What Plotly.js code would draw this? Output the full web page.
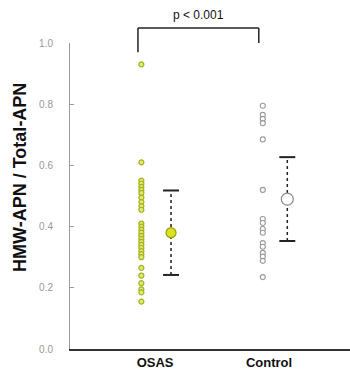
<!DOCTYPE html>
<html><head><meta charset="utf-8">
<script src="https://cdn.plot.ly/plotly-3.0.1.min.js"></script>
<style>html,body{margin:0;padding:0;background:#fff}#c{width:350px;height:370px}</style>
</head><body><div id="c"></div>
<script>
const groups = ["OSAS", "Control"];
const osasValues = [0.93, 0.61, 0.55, 0.54, 0.53, 0.52, 0.51, 0.495, 0.48, 0.467, 0.455, 0.41, 0.40, 0.39, 0.38, 0.37, 0.36, 0.35, 0.34, 0.33, 0.32, 0.31, 0.30, 0.265, 0.24, 0.215, 0.195, 0.185, 0.155];
const controlValues = [0.795, 0.765, 0.752, 0.738, 0.685, 0.52, 0.425, 0.412, 0.392, 0.38, 0.346, 0.334, 0.314, 0.302, 0.288, 0.235];
const groupMeans = [0.38, 0.49];
const groupSD = [0.138, 0.137];
const yTickVals = [0, 0.2, 0.4, 0.6, 0.8, 1.0];
const yTickText = ["0.0", "0.2", "0.4", "0.6", "0.8", "1.0"];
const pLabel = "p < 0.001";
const yTitle = "HMW-APN / Total-APN";

// layout config
const pos = [1, 2];
const pointOffset = [-0.12, -0.055];
const meanOffset = [0.14, 0.16];
const capHalf = 0.07;
const pointStyle = [
  {color: "#dfe87a", line: {color: "#a3b316", width: 1.2}},
  {color: "#ffffff", line: {color: "#9a9a9a", width: 1.1}}
];
const meanStyle = [
  {color: "#dce21a", line: {color: "#9aa41a", width: 1.3}},
  {color: "#ffffff", line: {color: "#8a8a8a", width: 1.2}}
];
const allValues = [osasValues, controlValues];

const traces = [];
allValues.forEach((vals, g) => {
  traces.push({
    type: "scatter", mode: "markers",
    x: vals.map(() => pos[g] + pointOffset[g]), y: vals,
    marker: Object.assign({size: 5}, pointStyle[g]),
    hoverinfo: "y", showlegend: false
  });
  const mx = pos[g] + meanOffset[g];
  const lo = groupMeans[g] - groupSD[g], hi = groupMeans[g] + groupSD[g];
  traces.push({
    type: "scatter", mode: "lines", x: [mx, mx], y: [lo, hi],
    line: {color: "#222", width: 1.5, dash: "dot"}, hoverinfo: "skip", showlegend: false
  });
  [lo, hi].forEach(v => traces.push({
    type: "scatter", mode: "lines", x: [mx - capHalf, mx + capHalf], y: [v, v],
    line: {color: "#222", width: 2}, hoverinfo: "skip", showlegend: false
  }));
  traces.push({
    type: "scatter", mode: "markers", x: [mx], y: [groupMeans[g]],
    marker: Object.assign({size: g === 0 ? 10 : 12}, meanStyle[g]),
    hoverinfo: "y", showlegend: false
  });
});

const bl = pos[0] + pointOffset[0] - 0.03, br = pos[1] + pointOffset[1] - 0.035;
const layout = {
  width: 350, height: 370,
  margin: {l: 70, r: 0, t: 43, b: 21},
  paper_bgcolor: "#fff", plot_bgcolor: "#fff",
  font: {family: "Liberation Sans, Arial, sans-serif"},
  xaxis: {
    range: [0.254, 2.71], tickvals: pos, ticktext: groups,
    showgrid: false, zeroline: false, showline: true, linecolor: "#333", linewidth: 2,
    ticks: "", tickfont: {size: 13, color: "#111", family: "Liberation Sans, Arial, sans-serif", weight: "bold"},
    fixedrange: true
  },
  yaxis: {
    range: [0, 1], tickvals: yTickVals, ticktext: yTickText,
    showgrid: false, zeroline: false, showline: true, linecolor: "#9a9a9a", linewidth: 1,
    ticks: "inside", ticklen: 4, tickcolor: "#9a9a9a",
    ticklabelstandoff: 14,
    tickfont: {size: 10, color: "#999"}, fixedrange: true
  },
  shapes: [
    {type: "line", xref: "x", yref: "paper", x0: bl, x1: br, y0: 1.049, y1: 1.049, line: {color: "#222", width: 1.5}},
    {type: "line", xref: "x", yref: "paper", x0: bl, x1: bl, y0: 1.049, y1: 0.97, line: {color: "#222", width: 1.5}},
    {type: "line", xref: "x", yref: "paper", x0: br, x1: br, y0: 1.049, y1: 1.0, line: {color: "#222", width: 1.5}}
  ],
  annotations: [
    {text: pLabel, xref: "x", yref: "paper", x: (bl + br) / 2, y: 1.09, yanchor: "middle", showarrow: false,
     font: {size: 12, color: "#111"}},
    {text: "<b>" + yTitle + "</b>", xref: "paper", yref: "paper", x: -0.179, y: 0.562, textangle: -90,
     xanchor: "center", yanchor: "middle", showarrow: false, font: {size: 18, color: "#111"}}
  ]
};
Plotly.newPlot("c", traces, layout, {displayModeBar: false, staticPlot: true});
</script></body></html>
